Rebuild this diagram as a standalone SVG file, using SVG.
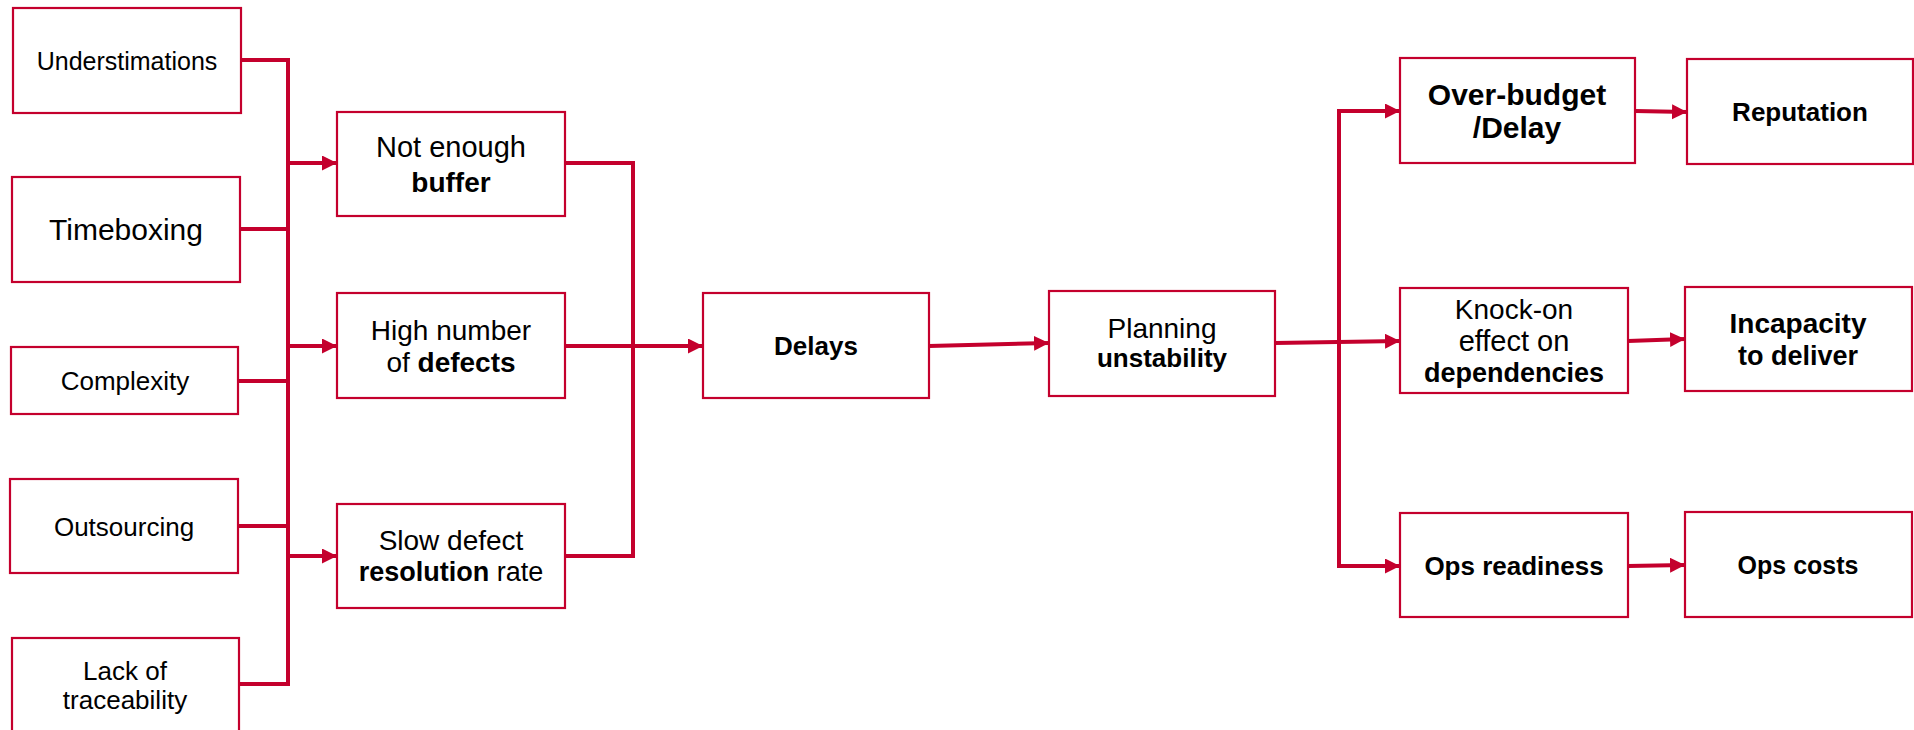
<svg xmlns="http://www.w3.org/2000/svg" width="1914" height="730" viewBox="0 0 1914 730">
<style>
.box{fill:#fff;stroke:#C4002D;stroke-width:2.2}
.t{font-family:"Liberation Sans",Arial,sans-serif;fill:#000;text-anchor:middle}
.b{font-weight:bold}
.c{fill:none;stroke:#C4002D;stroke-width:4}
</style>
<defs>
<marker id="ah" markerUnits="userSpaceOnUse" markerWidth="16" markerHeight="16" refX="15" refY="7.5" orient="auto">
<path d="M0,0 L15,7.5 L0,15 z" fill="#C4002D"/>
</marker>
</defs>
<rect width="1914" height="730" fill="#fff"/>
<g id="connectors">
<path class="c" d="M241,60 H288 V684 H239"/>
<path class="c" d="M240,229 H288"/>
<path class="c" d="M238,381 H288"/>
<path class="c" d="M238,526 H288"/>
<path class="c" d="M288,163 H337" marker-end="url(#ah)"/>
<path class="c" d="M288,346 H337" marker-end="url(#ah)"/>
<path class="c" d="M288,556 H337" marker-end="url(#ah)"/>
<path class="c" d="M565,163 H633 V556 H565"/>
<path class="c" d="M565,346 H703" marker-end="url(#ah)"/>
<path class="c" d="M929,346 L1049,343" marker-end="url(#ah)"/>
<path class="c" d="M1275,343 L1400,341" marker-end="url(#ah)"/>
<path class="c" d="M1400,111 H1339 V566 H1400" marker-end="url(#ah)"/>
<path class="c" d="M1339,111 H1400" marker-end="url(#ah)"/>
<path class="c" d="M1635,111 L1687,112" marker-end="url(#ah)"/>
<path class="c" d="M1628,341 L1685,339" marker-end="url(#ah)"/>
<path class="c" d="M1628,566 L1685,565" marker-end="url(#ah)"/>
</g>
<g id="understimations"><rect class="box" x="13" y="8" width="228" height="105"/><text class="t" x="127" y="70" font-size="25">Understimations</text></g>
<g id="timeboxing"><rect class="box" x="12" y="177" width="228" height="105"/><text class="t" x="126" y="240" font-size="30">Timeboxing</text></g>
<g id="complexity"><rect class="box" x="11" y="347" width="227" height="67"/><text class="t" x="125" y="390" font-size="26">Complexity</text></g>
<g id="outsourcing"><rect class="box" x="10" y="479" width="228" height="94"/><text class="t" x="124" y="536" font-size="26">Outsourcing</text></g>
<g id="traceability"><rect class="box" x="12" y="638" width="227" height="100"/><text class="t" x="125" y="680" font-size="26">Lack of</text><text class="t" x="125" y="709" font-size="26">traceability</text></g>
<g id="buffer"><rect class="box" x="337" y="112" width="228" height="104"/><text class="t" x="451" y="157" font-size="29">Not enough</text><text class="t b" x="451" y="192" font-size="28">buffer</text></g>
<g id="defects"><rect class="box" x="337" y="293" width="228" height="105"/><text class="t" x="451" y="340" font-size="28">High number</text><text class="t" x="451" y="372" font-size="28">of <tspan class="b">defects</tspan></text></g>
<g id="resolution"><rect class="box" x="337" y="504" width="228" height="104"/><text class="t" x="451" y="550" font-size="28">Slow defect</text><text class="t" x="451" y="581" font-size="27"><tspan class="b">resolution</tspan> rate</text></g>
<g id="delays"><rect class="box" x="703" y="293" width="226" height="105"/><text class="t b" x="816" y="355" font-size="26">Delays</text></g>
<g id="planning"><rect class="box" x="1049" y="291" width="226" height="105"/><text class="t" x="1162" y="338" font-size="28">Planning</text><text class="t b" x="1162" y="367" font-size="26">unstability</text></g>
<g id="overbudget"><rect class="box" x="1400" y="58" width="235" height="105"/><text class="t b" x="1517" y="105" font-size="30">Over-budget</text><text class="t b" x="1517" y="138" font-size="30">/Delay</text></g>
<g id="reputation"><rect class="box" x="1687" y="59" width="226" height="105"/><text class="t b" x="1800" y="121" font-size="26">Reputation</text></g>
<g id="knockon"><rect class="box" x="1400" y="288" width="228" height="105"/><text class="t" x="1514" y="319" font-size="28">Knock-on</text><text class="t" x="1514" y="351" font-size="29">effect on</text><text class="t b" x="1514" y="382" font-size="27">dependencies</text></g>
<g id="incapacity"><rect class="box" x="1685" y="287" width="227" height="104"/><text class="t b" x="1798" y="333" font-size="28">Incapacity</text><text class="t b" x="1798" y="365" font-size="27">to deliver</text></g>
<g id="opsreadiness"><rect class="box" x="1400" y="513" width="228" height="104"/><text class="t b" x="1514" y="575" font-size="26">Ops readiness</text></g>
<g id="opscosts"><rect class="box" x="1685" y="512" width="227" height="105"/><text class="t b" x="1798" y="574" font-size="25">Ops costs</text></g>
</svg>
